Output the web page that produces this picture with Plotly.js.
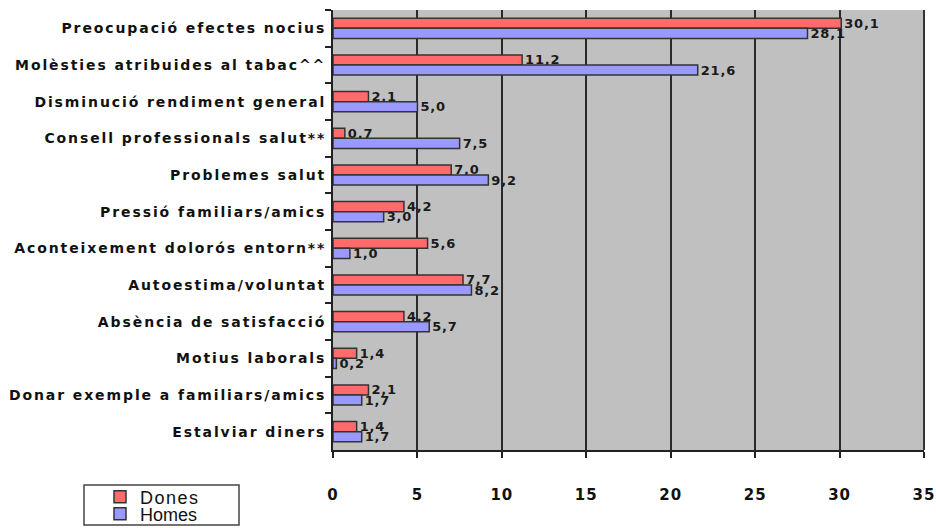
<!DOCTYPE html>
<html>
<head>
<meta charset="utf-8">
<script src="https://cdn.plot.ly/plotly-3.0.1.min.js"></script>
<style>
html,body{margin:0;padding:0;background:#fff;}
#chart{width:936px;height:528px;}
.ytick text{letter-spacing:1.9px;}
.xtick text{letter-spacing:1px;}
text.bartext{letter-spacing:0.8px;}
.legendtext{letter-spacing:1.5px;}
</style>
</head>
<body>
<div id="chart"></div>
<script>
var categories = [
  "Preocupació efectes nocius",
  "Molèsties atribuides al tabac^^",
  "Disminució rendiment general",
  "Consell professionals salut**",
  "Problemes salut",
  "Pressió familiars/amics",
  "Aconteixement dolorós entorn**",
  "Autoestima/voluntat",
  "Absència de satisfacció",
  "Motius laborals",
  "Donar exemple a familiars/amics",
  "Estalviar diners"
];
var dones = [30.1, 11.2, 2.1, 0.7, 7.0, 4.2, 5.6, 7.7, 4.2, 1.4, 2.1, 1.4];
var homes = [28.1, 21.6, 5.0, 7.5, 9.2, 3.0, 1.0, 8.2, 5.7, 0.2, 1.7, 1.7];
var xTicks = [0, 5, 10, 15, 20, 25, 30, 35];

var labelFont = {family: "DejaVu Sans", size: 13, color: "#1a1a1a", weight: 700};
var legendFont = {family: "Liberation Sans", size: 18, color: "#111"};

var traces = [
  {
    type: "bar", orientation: "h", name: "Dones", legend: "legend",
    y: categories, x: dones,
    marker: {color: "#ff6b6b", line: {color: "#333", width: 1.5}},
    texttemplate: "%{x:.1f}", textposition: "outside", cliponaxis: false,
    constraintext: "none", textfont: labelFont
  },
  {
    type: "bar", orientation: "h", name: "Homes", legend: "legend2",
    y: categories, x: homes,
    marker: {color: "#9999ff", line: {color: "#333", width: 1.5}},
    texttemplate: "%{x:.1f}", textposition: "outside", cliponaxis: false,
    constraintext: "none", textfont: labelFont
  }
];

var layout = {
  width: 936, height: 528,
  separators: ",.",
  margin: {l: 333, r: 12, t: 10, b: 78, autoexpand: false},
  paper_bgcolor: "#fff",
  plot_bgcolor: "#c0c0c0",
  barmode: "group",
  bargap: 0.45,
  bargroupgap: 0,
  showlegend: true,
  legend: {
    x: (100 - 333) / 591, xanchor: "left", y: (450 - 497) / 440, yanchor: "middle",
    font: legendFont, bgcolor: "rgba(0,0,0,0)", borderwidth: 0, itemwidth: 30
  },
  legend2: {
    x: (100 - 333) / 591, xanchor: "left", y: (450 - 514) / 440, yanchor: "middle",
    font: legendFont, bgcolor: "rgba(0,0,0,0)", borderwidth: 0, itemwidth: 30
  },
  xaxis: {
    range: [0, 35], tickvals: xTicks, ticktext: xTicks.map(String),
    showgrid: true, gridcolor: "#2a2a2a", gridwidth: 2,
    showline: true, linecolor: "#222", linewidth: 2,
    ticks: "outside", ticklen: 6, tickcolor: "#222", tickwidth: 2,
    ticklabelstandoff: 24,
    tickfont: {family: "DejaVu Sans", size: 15, color: "#111", weight: 700},
    zeroline: false
  },
  yaxis: {
    autorange: "reversed",
    showline: true, linecolor: "#222", linewidth: 2,
    ticks: "outside", tickson: "boundaries", ticklen: 6, tickcolor: "#222", tickwidth: 2,
    tickfont: {family: "DejaVu Sans", size: 14, color: "#111", weight: 700},
    ticklabelstandoff: 2,
    showgrid: false
  },
  shapes: [
    {type: "rect", xref: "paper", yref: "paper",
     x0: (84 - 333) / 591, x1: (239 - 333) / 591,
     y0: (450 - 485) / 440, y1: (450 - 525) / 440,
     line: {color: "#444", width: 1.5}, fillcolor: "rgba(0,0,0,0)"},
    {type: "line", xref: "paper", yref: "paper", x0: 1, x1: 1, y0: 0, y1: 1,
     line: {color: "#333", width: 2}}
  ]
};

Plotly.newPlot("chart", traces, layout, {displayModeBar: false, staticPlot: true});
</script>
</body>
</html>
